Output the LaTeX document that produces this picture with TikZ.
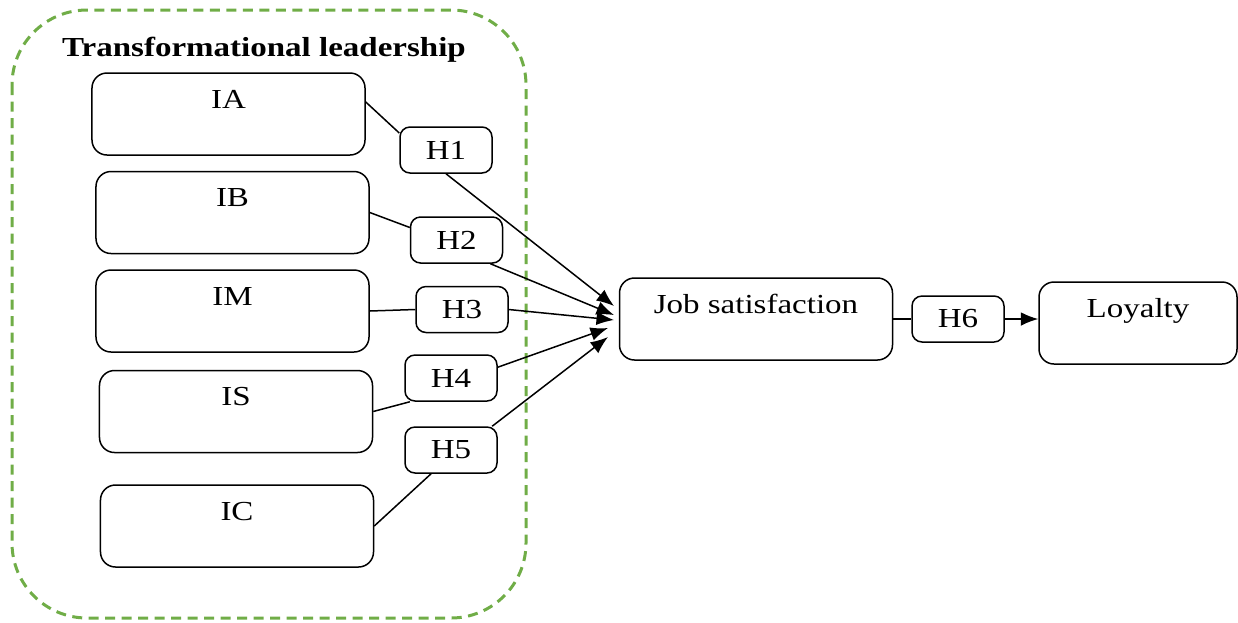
\documentclass[tikz,border=0pt]{standalone}
\usepackage{fontspec}
\setmainfont[FakeStretch=1.2]{Liberation Serif}
\usetikzlibrary{arrows.meta}
\definecolor{dashgreen}{RGB}{112,173,71}

\begin{document}
\begin{tikzpicture}
[x=0.4pt,y=-0.4pt,line width=0.6pt,%
  box/.style={shape=rectangle,draw,rounded corners=6pt,minimum width=109.2pt,minimum height=32.8pt,inner sep=0pt,text height=8pt,text depth=12.8pt},%
  hyp/.style={shape=rectangle,draw,rounded corners=4pt,minimum width=36.8pt,minimum height=18.4pt,inner sep=0pt},%
  arr/.style={-{Latex[length=7pt,width=5.5pt]}}]
\fontsize{11}{13}\selectfont
\useasboundingbox (0,0) rectangle (1238,622);
\draw[dashgreen,line width=1.2pt,dash pattern=on 4pt off 2.6pt,rounded corners=30pt] (12,10) rectangle (526,618);
\node (title) at (264,50) {\bfseries Transformational leadership};
\node[box] (ia) at (228.5,114) {IA};
\node[box] (ib) at (232.5,212.5) {IB};
\node[box] (im) at (232.5,311) {IM};
\node[box] (is) at (236,411.5) {IS};
\node[box] (ic) at (237,526) {IC};
\node[hyp] (h1) at (446,150) {H1};
\node[hyp] (h2) at (456.5,240) {H2};
\node[hyp] (h3) at (462,309.5) {H3};
\node[hyp] (h4) at (451,378) {H4};
\node[hyp] (h5) at (451,450) {H5};
\node[box] (job) at (756,319) {Job satisfaction};
\node[hyp] (h6) at (958,319) {H6};
\node[box,minimum width=79.2pt] (loyal) at (1138,323) {Loyalty};
\coordinate (t1) at (614,306);
\coordinate (t2) at (614,315);
\coordinate (t3) at (614,320);
\coordinate (t4) at (608,328);
\coordinate (t5) at (608,337);
\draw (ia.5) -- (h1.160);
\draw (ib.east) -- (h2.165);
\draw (im.east) -- (h3.west);
\draw (is.east) -- (h4.-150);
\draw (ic.east) -- (h5.-130);
\draw[arr] (h1.south) -- (t1);
\draw[arr] (h2.-35) -- (t2);
\draw[arr] (h3.east) -- (t3);
\draw[arr] (h4.13) -- (t4);
\draw[arr] (h5.30) -- (t5);
\draw (job.east) -- (h6.west);
\draw[arr] (h6.east) -- (h6.east -| loyal.west);
\end{tikzpicture}
\end{document}
